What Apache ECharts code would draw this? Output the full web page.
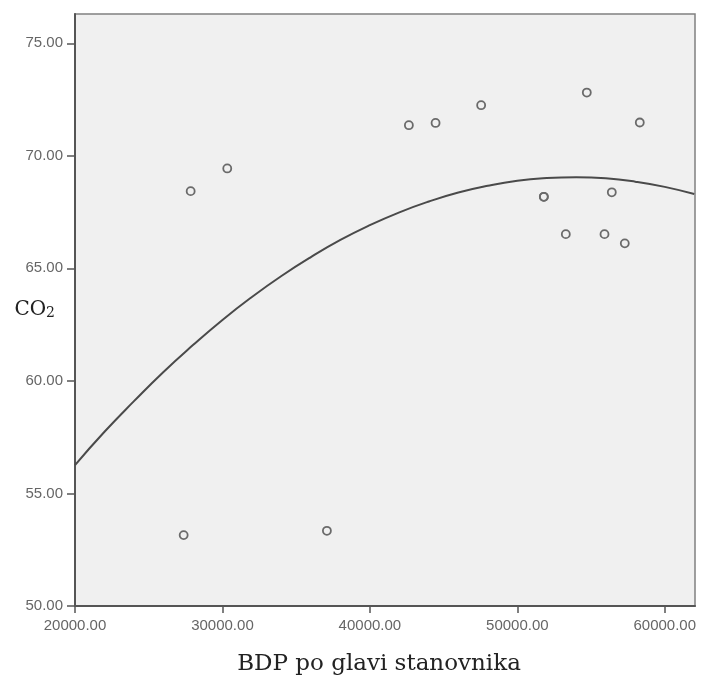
<!DOCTYPE html>
<html>
<head>
<meta charset="utf-8">
<script src="https://cdn.jsdelivr.net/npm/echarts@6/dist/echarts.min.js"></script>
<style>html,body{margin:0;padding:0;background:#fff;}#c{width:701px;height:683px;}</style>
</head>
<body>
<div id="c"></div>
<script>
// Scatter points (BDP po glavi stanovnika, CO2)
const gdp = [27370, 27844, 30326, 37085, 42644, 44454, 47546, 51797, 51797, 53288, 54712, 55912, 56407, 57288, 58305];
const co2 = [53.15, 68.43, 69.44, 53.34, 71.36, 71.46, 72.25, 68.18, 68.18, 66.52, 72.81, 66.52, 68.38, 66.11, 71.48];
// Quadratic fit curve
const fitX = [20000, 22000, 24000, 26000, 28000, 30000, 32000, 34000, 36000, 38000, 40000, 42000, 44000, 46000, 48000, 50000, 52000, 54000, 56000, 58000, 60000, 62000];
const fitY = [56.26, 57.74, 59.10, 60.40, 61.59, 62.71, 63.73, 64.66, 65.50, 66.26, 66.92, 67.49, 67.97, 68.37, 68.67, 68.89, 69.01, 69.05, 69.00, 68.85, 68.62, 68.30];
// Axis ticks
const xTicks = [20000, 30000, 40000, 50000, 60000];
const yTicks = [50, 55, 60, 65, 70, 75];

const chart = echarts.init(document.getElementById('c'), null, {renderer: 'canvas'});
const labelStyle = {color: '#666', fontFamily: 'Arial, "Liberation Sans", sans-serif', fontSize: 15};
chart.setOption({
  animation: false,
  backgroundColor: '#ffffff',
  grid: {left: 75, right: 6, top: 14, bottom: 77, containLabel: false, outerBoundsMode: 'none', show: true, backgroundColor: '#f0f0f0', borderColor: '#808080', borderWidth: 1.5},
  xAxis: {
    type: 'value', min: 20000, max: 62050, interval: 10000,
    name: 'BDP po glavi stanovnika', nameLocation: 'middle', nameGap: 47, nameMoveOverlap: false,
    nameTextStyle: {color: '#222', fontFamily: '"DejaVu Serif", serif', fontSize: 23, padding: [0, 12, 0, 0]},
    axisLine: {show: true, onZero: false, lineStyle: {color: '#555', width: 2}},
    axisTick: {show: true, length: 7, lineStyle: {color: '#555', width: 1.5}, customValues: xTicks},
    axisLabel: Object.assign({margin: 12, customValues: xTicks, formatter: v => v.toFixed(2)}, labelStyle),
    splitLine: {show: false}
  },
  yAxis: {
    type: 'value', min: 50, max: 76.3, interval: 5,
    name: '{a|CO}{b|2}', nameLocation: 'middle', nameRotate: 0, nameGap: 20, nameMoveOverlap: false,
    nameTextStyle: {rich: {a: {color: '#222', fontFamily: '"DejaVu Serif", serif', fontSize: 20}, b: {color: '#222', fontFamily: '"DejaVu Serif", serif', fontSize: 14, verticalAlign: 'bottom', padding: [6, 0, 0, 0]}}},
    axisLine: {show: true, onZero: false, lineStyle: {color: '#555', width: 2}},
    axisTick: {show: true, length: 8, lineStyle: {color: '#555', width: 1.5}, customValues: yTicks},
    axisLabel: Object.assign({margin: 12, customValues: yTicks, formatter: v => v.toFixed(2)}, labelStyle),
    splitLine: {show: false}
  },
  series: [
    {
      type: 'line', data: fitX.map((x, i) => [x, fitY[i]]), smooth: true, showSymbol: false,
      lineStyle: {color: '#4a4a4a', width: 2}, z: 2, silent: true
    },
    {
      type: 'scatter', data: gdp.map((x, i) => [x, co2[i]]), symbol: 'circle', symbolSize: 8,
      itemStyle: {color: 'rgba(0,0,0,0)', borderColor: '#6a6a6a', borderWidth: 1.8, opacity: 1}, z: 3
    }
  ]
});
</script>
</body>
</html>
